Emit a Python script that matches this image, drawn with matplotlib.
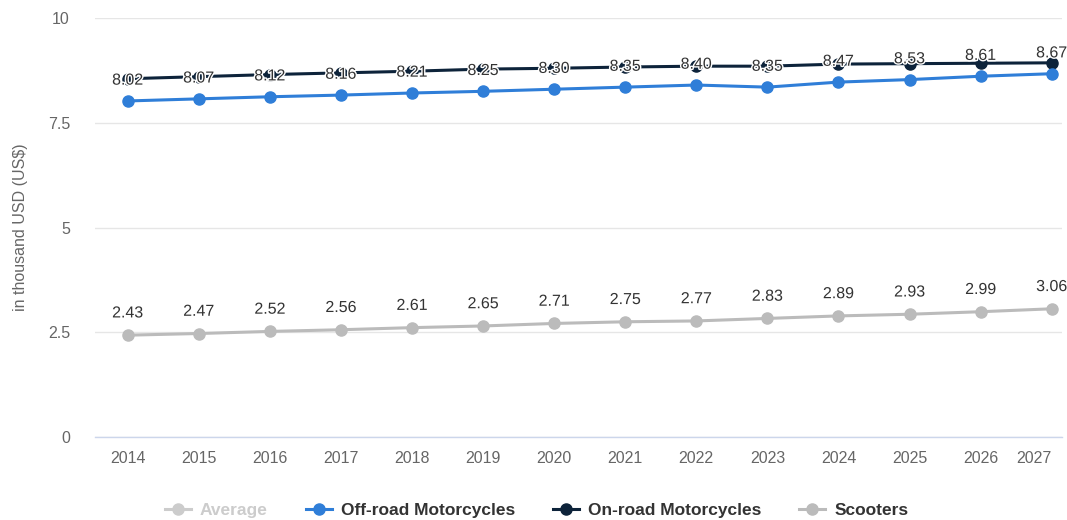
import matplotlib
matplotlib.use("Agg")
import matplotlib.pyplot as plt
import matplotlib.patheffects as pe
from matplotlib.lines import Line2D

plt.rcParams['font.family'] = ['Liberation Sans', 'DejaVu Sans']

years = ["2014", "2015", "2016", "2017", "2018", "2019", "2020",
         "2021", "2022", "2023", "2024", "2025", "2026", "2027"]
off_road = [8.02, 8.07, 8.12, 8.16, 8.21, 8.25, 8.30, 8.35, 8.40, 8.35, 8.47, 8.53, 8.61, 8.67]
on_road = [8.55, 8.60, 8.65, 8.69, 8.73, 8.78, 8.80, 8.83, 8.85, 8.85, 8.90, 8.91, 8.92, 8.93]
scooters = [2.43, 2.47, 2.52, 2.56, 2.61, 2.65, 2.71, 2.75, 2.77, 2.83, 2.89, 2.93, 2.99, 3.06]
y_ticks = [0, 2.5, 5, 7.5, 10]
y_tick_labels = ["0", "2.5", "5", "7.5", "10"]

c_off = "#2f7ed8"
c_on = "#0d233a"
c_sc = "#bbbbbb"
c_avg = "#cccccc"

fig = plt.figure(figsize=(10.67, 5.2), dpi=100)
ax = fig.add_axes([0.089, 0.1596, 0.906, 0.8058])
x = list(range(len(years)))

ax.plot(x, scooters, color=c_sc, lw=2.2, marker="o", ms=8, zorder=3)
ax.plot(x, on_road, color=c_on, lw=2.2, marker="o", ms=8, zorder=4)
ax.plot(x, off_road, color=c_off, lw=2.2, marker="o", ms=8, zorder=5)

halo = [pe.withStroke(linewidth=2, foreground="white")]
for xi, v in zip(x, off_road):
    ax.annotate(f"{v:.2f}", (xi, v), xytext=(0, 15), textcoords="offset points",
                ha="center", va="center", fontsize=11.5, color="#333333",
                path_effects=halo, zorder=6)
for xi, v in zip(x, scooters):
    ax.annotate(f"{v:.2f}", (xi, v), xytext=(0, 16), textcoords="offset points",
                ha="center", va="center", fontsize=11.5, color="#333333",
                path_effects=halo, zorder=6)

ax.set_xlim(-0.46, 13.14)
ax.set_ylim(0, 10)
ax.set_yticks(y_ticks)
ax.set_yticklabels(y_tick_labels)
ax.set_xticks(x)
ax.set_xticklabels(years)
ax.tick_params(axis="both", length=0, labelsize=11.5, labelcolor="#666666")
ax.tick_params(axis="y", pad=18)
ax.tick_params(axis="x", pad=10)
for lab in ax.get_yticklabels():
    lab.set_horizontalalignment("right")
xlabs = ax.get_xticklabels()
xlabs[-1].set_horizontalalignment("right")
xlabs[-1].set_x(13.2)
ax.grid(axis="y", color="#e6e6e6", lw=1)
ax.set_axisbelow(True)
for s in ["top", "right", "left"]:
    ax.spines[s].set_visible(False)
ax.spines["bottom"].set_color("#ccd6eb")
ax.spines["bottom"].set_linewidth(1)
ax.set_ylabel("in thousand USD (US$)", fontsize=11.5, color="#666666", labelpad=14)

handles = [
    Line2D([], [], color=c_avg, lw=2.2, marker="o", ms=8),
    Line2D([], [], color=c_off, lw=2.2, marker="o", ms=8),
    Line2D([], [], color=c_on, lw=2.2, marker="o", ms=8),
    Line2D([], [], color=c_sc, lw=2.2, marker="o", ms=8),
]
labels = ["Average", "Off-road Motorcycles", "On-road Motorcycles", "Scooters"]
leg = fig.legend(handles, labels, loc="center", bbox_to_anchor=(0.503, 0.018),
                 ncol=4, frameon=False, fontsize=12.5, handlelength=1.5,
                 columnspacing=2.2, handletextpad=0.5)
for i, t in enumerate(leg.get_texts()):
    t.set_fontweight("bold")
    t.set_color(c_avg if i == 0 else "#333333")

fig.savefig("out.png", dpi=100)
